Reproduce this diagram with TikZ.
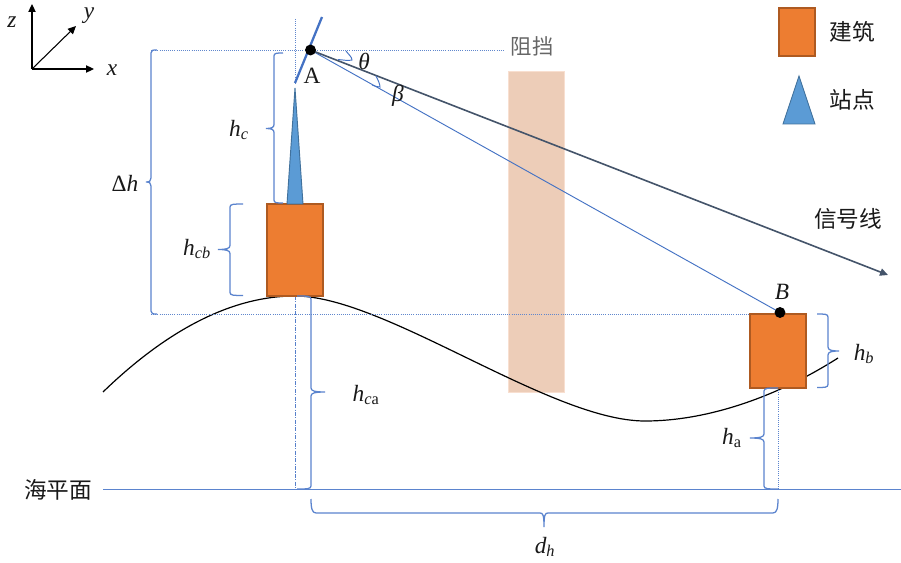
\documentclass[tikz,border=0pt]{standalone}
\usepackage{amsmath}
\usepackage{fontspec}
\newfontfamily\cjkf{Noto Sans CJK SC}
\newfontfamily\lsi{Liberation Serif}[ItalicFont=* Italic]
\newcommand{\mvar}[1]{\text{\lsi\itshape #1}}
\newcommand{\mrom}[1]{\text{\lsi\upshape #1}}
\usetikzlibrary{arrows.meta}
\definecolor{bl}{HTML}{4472C4}
\definecolor{brc}{HTML}{5B84CE}
\definecolor{org}{HTML}{ED7D31}
\definecolor{orgd}{HTML}{AE5A21}
\definecolor{tri}{HTML}{5B9BD5}
\definecolor{trid}{HTML}{41719C}
\definecolor{sig}{HTML}{44546A}
\definecolor{barfill}{HTML}{EDCDB8}
\definecolor{baredge}{HTML}{F8DFD0}
\tikzset{
  bracestyle/.style={draw=brc,line width=0.95pt},
  dotline/.style={draw=bl!85,line width=0.6pt,densely dotted},
  dashdot/.style={draw=bl!90,line width=0.7pt,dash pattern=on 3pt off 1pt on 0.8pt off 1pt},
  building/.style={fill=org,draw=orgd,line width=0.8pt},
  station/.style={fill=tri,draw=trid,line width=0.7pt},
  axis/.style={draw=black,line width=0.8pt,-{Triangle[length=6pt,width=5.5pt]}},
  lab/.style={inner sep=0pt,font=\fontsize{17.5}{20}\selectfont,text=black!90},
  cjk/.style={inner sep=0pt,font=\cjkf\fontsize{17}{20}\selectfont,text=black!90},
  cjkgray/.style={inner sep=0pt,font=\cjkf\fontsize{16}{20}\selectfont,text=black!60},
  dotnode/.style={circle,fill=black,inner sep=0pt,minimum size=8.2pt},
  anglemark/.style={draw=bl,line width=0.7pt},
}
% e=end x, s=spine x, y1, y2, t=tip x, ym=tip y
\newcommand{\vbr}[6]{\draw[bracestyle] (#1,#3) .. controls ({#2+(#1-(#2))*0.3},#3) and (#2,#3) .. (#2,#3+3) -- (#2,#6-4) .. controls (#2,#6-1) and ({#2+(#5-(#2))*0.3},#6) .. (#5,#6) .. controls ({#2+(#5-(#2))*0.3},#6) and (#2,#6+1) .. (#2,#6+4) -- (#2,#4-3) .. controls (#2,#4) and ({#2+(#1-(#2))*0.3},#4) .. (#1,#4);}
\begin{document}
\begin{tikzpicture}[x=0.75pt,y=-0.75pt]
\useasboundingbox (0,0) rectangle (901,563);
\fill[white] (0,0) rectangle (901,563);
% barrier
\draw[fill=barfill,draw=baredge,line width=1pt] (508.5,71.5) rectangle (564.5,392.5);
% terrain
\draw[black,line width=0.9pt] (103,392) .. controls (165,332) and (230,296) .. (295,296) .. controls (385,296) and (550,421) .. (645,421) .. controls (710,421) and (780,395) .. (838,358);
% dotted guides
\coordinate (A) at (310.5,50);
\coordinate (B) at (780,312.5);
\draw[dotline] (151,50) -- (505,50);
\draw[dotline] (151,314) -- (750,314);
\draw[dotline,line width=0.4pt] (295,19) -- (295,85);
\draw[dashdot] (295,296) -- (295,489);
\draw[dotline,draw=brc] (778,388) -- (778,489);
% station building, buildings
\draw[building] (267,204) rectangle (323,296);
\draw[station] (295,88) -- (303,204) -- (287,204) -- cycle;
\draw[building] (750,314) rectangle (806,388);
% antenna
\draw[bl,line width=1.7pt] (295,83) -- (322,17);
% rays
\draw[bl,line width=0.7pt] (A) -- (B);
\draw[sig,line width=1.2pt,-{Triangle[length=6pt,width=5.5pt]}] (A) -- (888,275);
\node[dotnode] (nA) at (A) {};
\node[dotnode] (nB) at (B) {};
% angle marks
\draw[anglemark] (346,51) .. controls (349,55) and (352,57) .. (352,60) .. controls (348,61) and (344,60) .. (338,59.5);
\draw[anglemark] (376,76) .. controls (378,80) and (380,84) .. (380,87) .. controls (377,87) and (375,86) .. (372,85);
% sea level
\draw[brc,line width=1.1pt] (103,489.5) -- (901,489.5);
% braces
\vbr{283}{274}{53}{203}{266}{128.5}
\vbr{243}{230}{204}{295.5}{218}{249.5}
\vbr{157}{151}{50}{314}{146}{182}
\vbr{297}{311}{296}{489}{325}{392}
\vbr{778}{764}{388}{489}{750}{438}
\vbr{817}{828}{314}{387.5}{839}{351}
\draw[bracestyle] (311,499) .. controls (311,508) and (312,513) .. (316,513) -- (540,513) .. controls (543,513) and (544,515) .. (544,527) .. controls (544,515) and (545,513) .. (548,513) -- (773,513) .. controls (777,513) and (778,508) .. (778,499);
% axes
\coordinate (O) at (32,69);
\draw[axis] (O) -- (32,4);
\draw[axis] (O) -- (76,26);
\draw[axis] (O) -- (94,69);
% legend
\draw[building] (779,8) rectangle (815,56);
\draw[station] (799,76) -- (815,124) -- (783,124) -- cycle;
% labels
\node[lab] (lz) at (12,22) {$\mvar{z}$};
\node[lab] (ly) at (89,16) {$\mvar{y}$};
\node[lab] (lx) at (112,70) {$\mvar{x}$};
\node[lab] (lA) at (312,76) {$\mrom{A}$};
\node[lab] (lB) at (782,292) {$\mvar{B}$};
\node[lab] (lth) at (364,61) {$\mvar{θ}$};
\node[lab] (lbe) at (398,96) {$\mvar{β}$};
\node[lab] (lhc) at (239,130) {$\mvar{h}_{\mvar{c}}$};
\node[lab] (lhcb) at (197,249) {$\mvar{h}_{\mvar{cb}}$};
\node[lab] (ldh) at (125,183) {$\mrom{Δ}\mvar{h}$};
\node[lab] (lhca) at (366,395) {$\mvar{h}_{\mvar{c}\mrom{a}}$};
\node[lab] (lha) at (732,438) {$\mvar{h}_{\mrom{a}}$};
\node[lab] (lhb) at (864,354) {$\mvar{h}_{\mvar{b}}$};
\node[lab] (ldhh) at (545,547) {$\mvar{d}_{\mvar{h}}$};
\node[cjkgray] (tzd) at (532,46) {阻挡};
\node[cjk] (tjz) at (852,32) {建筑};
\node[cjk] (tzz) at (852,100) {站点};
\node[cjk] (txh) at (848,219) {信号线};
\node[cjk] (thp) at (58,490) {海平面};
\end{tikzpicture}
\end{document}
